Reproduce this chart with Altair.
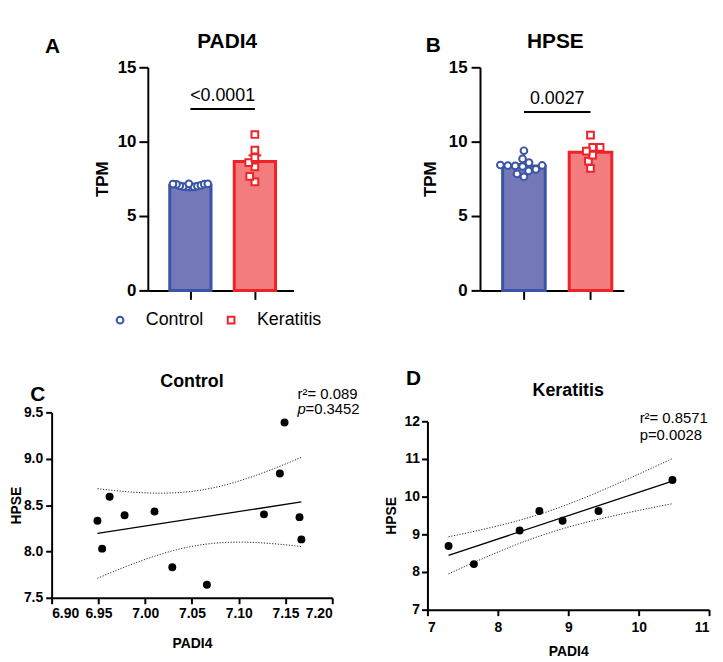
import altair as alt
import numpy as np
import pandas as pd

# ---------------- data ----------------
groups = ["Control", "Keratitis"]
control_padi4 = [6.949, 6.954, 6.962, 6.978, 7.010, 7.029, 7.066, 7.127, 7.144, 7.149, 7.165, 7.167]
control_hpse = [8.33, 8.03, 8.59, 8.39, 8.43, 7.83, 7.64, 8.40, 8.84, 9.39, 8.37, 8.13]
keratitis_padi4 = [7.30, 7.66, 8.31, 8.59, 8.92, 9.43, 10.48]
keratitis_hpse = [8.69, 8.21, 9.10, 9.62, 9.36, 9.62, 10.44]

bar_titles = ["PADI4", "HPSE"]
bar_pvalues = ["<0.0001", "0.0027"]
bar_sig_level = [12.2, 12.0]
tpm_ticks = [0, 5, 10, 15]

c_x_ticks = [6.90, 6.95, 7.00, 7.05, 7.10, 7.15, 7.20]
c_y_ticks = [7.5, 8.0, 8.5, 9.0, 9.5]
d_x_ticks = [7, 8, 9, 10, 11]
d_y_ticks = [7, 8, 9, 10, 11, 12]
c_stats = ["r\u00b2= 0.089", "p", "=0.3452"]
d_stats = ["r\u00b2= 0.8571", "p=0.0028"]
t_crit = {"Control": 2.228, "Keratitis": 2.571}  # 95% t, df = n-2

FONT = "Liberation Sans"
BLUE, BLUE_FILL = "#3a54a6", "#7478b9"
RED, RED_FILL = "#ee2329", "#f37c7f"
group_colors = [BLUE, RED]
group_shapes = ["circle", "square"]


# ---------------- helpers ----------------
def swarm(values, ppu_y, ppu_x, diam):
    vals = np.asarray(values, dtype=float)
    order = np.argsort(vals)
    placed = []
    offs = np.zeros(len(vals))
    for i in order:
        y = vals[i] * ppu_y
        cands = [0.0]
        for py, px in placed:
            dy = abs(y - py)
            if dy < diam:
                dx = np.sqrt(diam ** 2 - dy ** 2)
                cands += [px + dx, px - dx]
        cands.sort(key=lambda c: (abs(c), c))
        for c in cands:
            if all((c - px) ** 2 + (y - py) ** 2 >= diam ** 2 - 1e-6 for py, px in placed):
                offs[i] = c
                break
        placed.append((y, offs[i]))
    return offs / ppu_x


def bar_frame(cvals, kvals, ppu_x, diam_c, diam_k):
    rows = []
    for g, (name, vals, d) in enumerate([("Control", cvals, diam_c), ("Keratitis", kvals, diam_k)]):
        offs = swarm(vals, 15.0, ppu_x, d)
        for v, o in zip(vals, offs):
            rows.append({"group": name, "g": g, "value": v, "xp": g + o})
    return pd.DataFrame(rows)


def ci_frame(xs, ys, t):
    x = np.asarray(xs, dtype=float)
    y = np.asarray(ys, dtype=float)
    n = len(x)
    b, a = np.polyfit(x, y, 1)
    xm = x.mean()
    sxx = ((x - xm) ** 2).sum()
    s = np.sqrt(((y - (a + b * x)) ** 2).sum() / (n - 2))
    grid = np.linspace(x.min(), x.max(), 60)
    se = s * np.sqrt(1.0 / n + (grid - xm) ** 2 / sxx)
    fit = a + b * grid
    return pd.DataFrame({
        "x": np.r_[grid, grid],
        "y": np.r_[fit - t * se, fit + t * se],
        "side": ["lo"] * len(grid) + ["hi"] * len(grid),
    })


def label(text, x, y, size, weight="bold", align="center", style="normal"):
    return alt.Chart(pd.DataFrame({"t": [text]})).mark_text(
        font=FONT, fontSize=size, fontWeight=weight, align=align, baseline="middle",
        fontStyle=style, color="black",
    ).encode(text="t:N", x=alt.value(x), y=alt.value(y))


def legend_layers():
    layers = []
    sym_x = [69, 181]
    for i, name in enumerate(groups):
        layers.append(
            alt.Chart(pd.DataFrame({"g": [name]})).mark_point(
                filled=False, fill="white", size=46, strokeWidth=2, opacity=1,
                shape=group_shapes[i], color=group_colors[i],
            ).encode(x=alt.value(sym_x[i]), y=alt.value(255), detail="g:N")
        )
        layers.append(label(name, sym_x[i] + 26, 255, 18, weight="normal", align="left"))
    return layers


fill_scale = alt.Scale(domain=groups, range=[BLUE_FILL, RED_FILL])
stroke_scale = alt.Scale(domain=groups, range=group_colors)
shape_scale = alt.Scale(domain=groups, range=group_shapes)


def bar_panel(idx, cvals, kvals, cell_w, x_dom, x_rng, diam_c, diam_k,
              ytitle_x, ylabel_pad, title_xy, letter_xy, letter, extra):
    ppu_x = (x_rng[1] - x_rng[0]) / (x_dom[1] - x_dom[0])
    df = bar_frame(cvals, kvals, ppu_x, diam_c, diam_k)
    xs = alt.Scale(domain=x_dom, range=x_rng, nice=False, zero=False)
    ys = alt.Scale(domain=[0, 15], nice=False)
    xax = alt.Axis(values=[0, 1], labels=False, title=None, tickSize=9, tickWidth=2,
                   domainWidth=2, grid=False, domainColor="black", tickColor="black")
    yax = alt.Axis(values=tpm_ticks, title="TPM", titleX=ytitle_x, titleY=112.5,
                   titleAngle=270, titleBaseline="middle", titleFontSize=17,
                   titleFontWeight="bold", titleFont=FONT, titleColor="black",
                   labelFontSize=17, labelFontWeight="bold", labelFont=FONT, labelColor="black",
                   tickSize=9, tickWidth=2, domainWidth=2, labelPadding=ylabel_pad,
                   offset=-x_rng[0], grid=False, domainColor="black", tickColor="black")
    base = alt.Chart(df)
    agg = base.transform_aggregate(
        mean="mean(value)", sem="stderr(value)", groupby=["g", "group"]
    ).transform_calculate(
        x1="datum.g - 0.32", x2="datum.g + 0.32", hi="datum.mean + datum.sem",
        c1="datum.g - 0.1", c2="datum.g + 0.1",
    )
    bars = agg.mark_bar(strokeWidth=3).encode(
        x=alt.X("x1:Q", scale=xs, axis=xax), x2="x2:Q",
        y=alt.Y("mean:Q", scale=ys, axis=yax), y2=alt.datum(0),
        fill=alt.Fill("group:N", scale=fill_scale, legend=None),
        stroke=alt.Stroke("group:N", scale=stroke_scale, legend=None),
    )
    err = agg.mark_rule(strokeWidth=2).encode(
        x=alt.X("g:Q", scale=xs, axis=xax),
        y=alt.Y("mean:Q", scale=ys, axis=yax), y2="hi:Q",
        stroke=alt.Stroke("group:N", scale=stroke_scale, legend=None),
    )
    cap = agg.mark_rule(strokeWidth=2).encode(
        x=alt.X("c1:Q", scale=xs, axis=xax), x2="c2:Q",
        y=alt.Y("hi:Q", scale=ys, axis=yax),
        stroke=alt.Stroke("group:N", scale=stroke_scale, legend=None),
    )
    pts = base.mark_point(filled=False, fill="white", size=46, strokeWidth=2, opacity=1).encode(
        x=alt.X("xp:Q", scale=xs, axis=xax),
        y=alt.Y("value:Q", scale=ys, axis=yax),
        stroke=alt.Stroke("group:N", scale=stroke_scale, legend=None),
        shape=alt.Shape("group:N", scale=shape_scale, legend=None),
    )
    sig_df = pd.DataFrame({"a": [0], "b": [1], "m": [0.5],
                           "y": [bar_sig_level[idx]], "t": [bar_pvalues[idx]]})
    sig = alt.Chart(sig_df).mark_rule(strokeWidth=2, color="black").encode(
        x=alt.X("a:Q", scale=xs, axis=xax), x2="b:Q", y=alt.Y("y:Q", scale=ys, axis=yax))
    sig_t = alt.Chart(sig_df).mark_text(font=FONT, fontSize=18, baseline="alphabetic",
                                        dy=-8, color="black").encode(
        x=alt.X("m:Q", scale=xs, axis=xax), y=alt.Y("y:Q", scale=ys, axis=yax), text="t:N")
    ttl = label(bar_titles[idx], title_xy[0], title_xy[1], 21)
    let = label(letter, letter_xy[0], letter_xy[1], 21)
    return alt.layer(bars, err, cap, pts, sig, sig_t, ttl, let, *extra).properties(
        width=cell_w, height=225)


def scatter_panel(name, xs_, ys_, w, h, x_dom, y_dom, y_rng, x_ticks, y_ticks, fx, fy,
                  xlab_pad, ylab_pad, ytitle_x, xtitle_y, title_xy, letter_xy, letter, stats_layers):
    df = pd.DataFrame({"x": xs_, "y": ys_})
    ci = ci_frame(xs_, ys_, t_crit[name])
    xs = alt.Scale(domain=x_dom, nice=False, zero=False)
    ys = alt.Scale(domain=y_dom, range=y_rng, nice=False, zero=False)
    xax = alt.Axis(values=x_ticks, format=fx, title="PADI4", titleX=w / 2, titleY=xtitle_y,
                   titleBaseline="middle", titleFontSize=14, titleFontWeight="bold",
                   titleFont=FONT, titleColor="black",
                   labelFontSize=14, labelFontWeight="bold", labelFont=FONT, labelColor="black",
                   tickSize=6, tickWidth=2, domainWidth=2, labelPadding=xlab_pad, grid=False,
                   domainColor="black", tickColor="black")
    yax = alt.Axis(values=y_ticks, format=fy, title="HPSE", titleX=ytitle_x,
                   titleY=(y_rng[0] + y_rng[1]) / 2, titleAngle=270, titleBaseline="middle",
                   titleFontSize=14, titleFontWeight="bold", titleFont=FONT, titleColor="black",
                   labelFontSize=14, labelFontWeight="bold", labelFont=FONT, labelColor="black",
                   tickSize=6, tickWidth=2, domainWidth=2, labelPadding=ylab_pad, grid=False,
                   domainColor="black", tickColor="black")
    pts = alt.Chart(df).mark_circle(size=64, color="black", opacity=1).encode(
        x=alt.X("x:Q", scale=xs, axis=xax), y=alt.Y("y:Q", scale=ys, axis=yax))
    reg = alt.Chart(df).transform_regression("x", "y").mark_line(
        color="black", strokeWidth=1.3).encode(
        x=alt.X("x:Q", scale=xs, axis=xax), y=alt.Y("y:Q", scale=ys, axis=yax))
    band = alt.Chart(ci).mark_line(color="#222222", strokeWidth=1, strokeDash=[1.2, 1.6]).encode(
        x=alt.X("x:Q", scale=xs, axis=xax), y=alt.Y("y:Q", scale=ys, axis=yax), detail="side:N")
    ttl = label(name, title_xy[0], title_xy[1], 18)
    let = label(letter, letter_xy[0], letter_xy[1], 21)
    return alt.layer(band, reg, pts, ttl, let, *stats_layers).properties(width=w, height=h)


# ---------------- panels ----------------
panel_a = bar_panel(0, control_padi4, keratitis_padi4, 244, [-0.66, 1.6], [97, 244], 3.6, 7.5,
                    -46, 3, (177, -25), (1, -20), "A", legend_layers())
panel_b = bar_panel(1, control_hpse, keratitis_hpse, 198, [-0.66, 1.5], [53, 198], 7.5, 7.5,
                    -50, 4, (129, -25), (6, -21), "B", [])

c_stats_layers = [
    label(c_stats[0], 248, -18, 15, weight="normal", align="left"),
    label(c_stats[1], 248, -3, 15, weight="normal", align="left", style="italic"),
    label(c_stats[2], 256, -3, 15, weight="normal", align="left"),
]
d_stats_layers = [
    label(d_stats[0], 214, 6, 15, weight="normal", align="left"),
    label(d_stats[1], 214, 23, 15, weight="normal", align="left"),
]

panel_c = scatter_panel("Control", control_padi4, control_hpse, 283, 187, [6.90, 7.20], [7.5, 9.5],
                        [187, 0], c_x_ticks, c_y_ticks, ".2f", ".1f", 3, 3, -35, 46,
                        (141.5, -31), (-14, -17), "C", c_stats_layers)
panel_d = scatter_panel("Keratitis", keratitis_padi4, keratitis_hpse, 284, 199, [7, 11], [7, 12],
                        [199, 9], d_x_ticks, d_y_ticks, "d", "d", 5, 2, -36, 42,
                        (142, -22), (-14, -34), "D", d_stats_layers)

chart = alt.concat(
    panel_a, panel_b, panel_c, panel_d,
    columns=2, spacing={"row": 123, "column": 96}, align="none", bounds="flush",
).properties(
    padding={"left": 2, "top": 21, "right": 5, "bottom": 5}
).configure(font=FONT).configure_view(stroke=None)

chart.save("out.html", embed_options={"renderer": "svg", "actions": False})
